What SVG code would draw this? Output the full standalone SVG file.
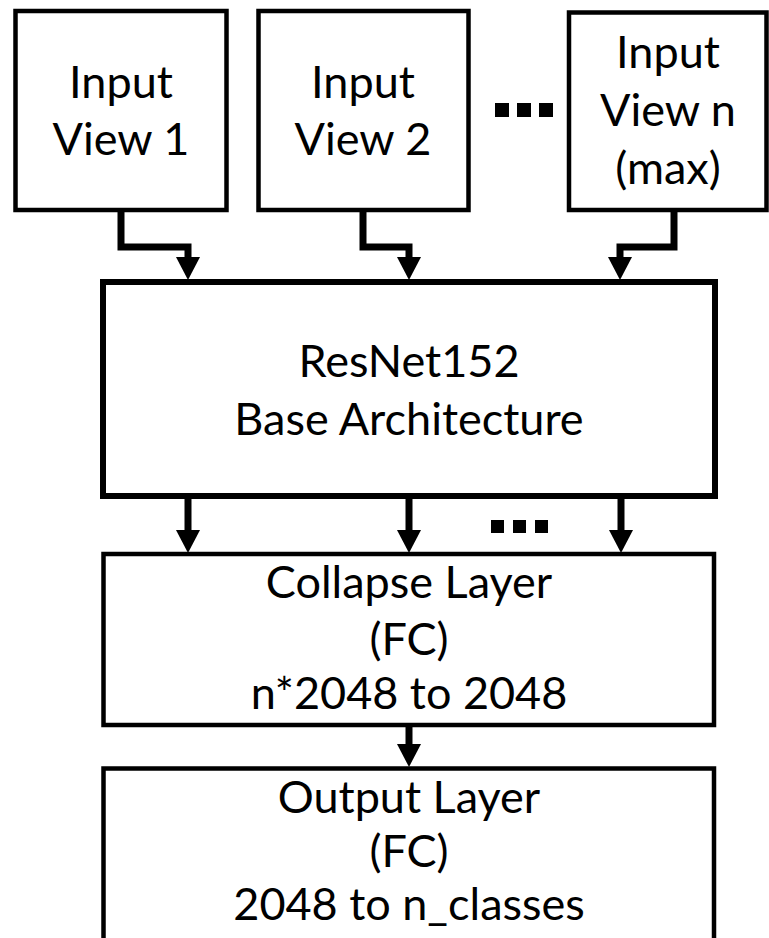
<svg xmlns="http://www.w3.org/2000/svg" width="769" height="938" viewBox="0 0 769 938">
<defs>
<style>
.box{fill:#fff;stroke:#000;stroke-width:4.5}
.big{fill:#fff;stroke:#000;stroke-width:6}
.t{font-family:Lato,"Liberation Sans",sans-serif;font-size:45px;fill:#000;text-anchor:middle}
.w{fill:none;stroke:#000;stroke-width:7;stroke-linejoin:miter}
</style>
<marker id="ah" markerWidth="23" markerHeight="24" refX="0" refY="12" markerUnits="userSpaceOnUse" orient="auto" viewBox="0 0 23 24">
<path d="M0 0 L23 12 L0 24 Z" fill="#000"/>
</marker>
</defs>
<rect width="769" height="938" fill="#fff"/>
<g id="view1">
<rect class="box" x="15.5" y="11" width="211" height="199"/>
<text class="t" x="121" y="98">Input</text>
<text class="t" x="121" y="155">View 1</text>
</g>
<g id="view2">
<rect class="box" x="258.5" y="11" width="210" height="199"/>
<text class="t" x="363" y="98">Input</text>
<text class="t" x="363" y="155">View 2</text>
</g>
<g id="ellipsis-top">
<rect x="495" y="103" width="14" height="14"/>
<rect x="517" y="103" width="14" height="14"/>
<rect x="539" y="103" width="14" height="14"/>
</g>
<g id="viewn">
<rect class="box" x="569" y="12.5" width="197.5" height="197.5"/>
<text class="t" x="668" y="68">Input</text>
<text class="t" x="668" y="126">View n</text>
<text class="t" x="668" y="184">(max)</text>
</g>
<g id="resnet">
<rect class="big" x="103" y="282" width="612" height="214"/>
<text class="t" x="409" y="377">ResNet152</text>
<text class="t" x="409" y="435">Base Architecture</text>
</g>
<g id="ellipsis-mid">
<rect x="491" y="520" width="13" height="13"/>
<rect x="513" y="520" width="13" height="13"/>
<rect x="535" y="520" width="13" height="13"/>
</g>
<g id="collapse">
<rect class="box" x="103.5" y="554" width="610.5" height="171"/>
<text class="t" x="409" y="598">Collapse Layer</text>
<text class="t" x="409" y="655">(FC)</text>
<text class="t" x="409" y="709">n*2048 to 2048</text>
</g>
<g id="output">
<rect class="box" x="103.5" y="768.5" width="610.5" height="200"/>
<text class="t" x="409" y="813">Output Layer</text>
<text class="t" x="409" y="867">(FC)</text>
<text class="t" x="409" y="920">2048 to n_classes</text>
</g>
<g id="connectors">
<path class="w" d="M121 210 V247 H188 V257" marker-end="url(#ah)"/>
<path class="w" d="M363 210 V247 H409 V257" marker-end="url(#ah)"/>
<path class="w" d="M674 210 V247 H620 V257" marker-end="url(#ah)"/>
<path class="w" d="M188 496 V530" marker-end="url(#ah)"/>
<path class="w" d="M409 496 V530" marker-end="url(#ah)"/>
<path class="w" d="M621 496 V530" marker-end="url(#ah)"/>
<path class="w" d="M409 725 V744" marker-end="url(#ah)"/>
</g>
</svg>
